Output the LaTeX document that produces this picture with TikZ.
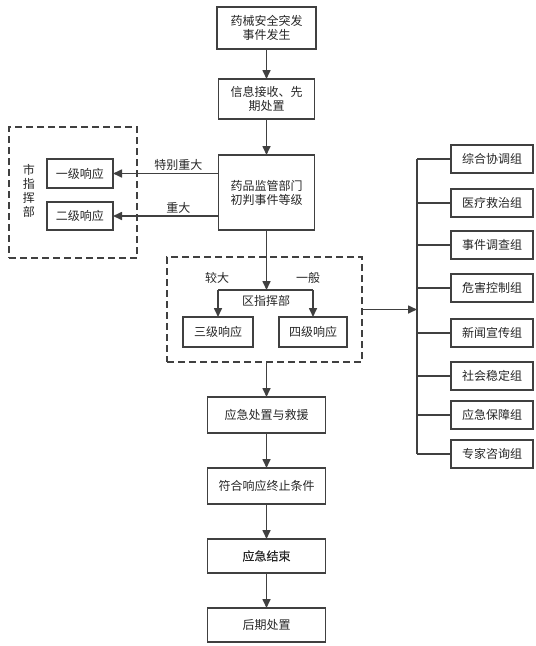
\documentclass[tikz,border=0pt]{standalone}
\usepackage{fontspec}
\newfontfamily\cjk{Noto Sans CJK SC}
\newfontfamily\cjkmid[FakeBold=0.25]{Noto Sans CJK SC}
\usetikzlibrary{arrows.meta, positioning}
\definecolor{linegray}{HTML}{404040}

\begin{document}
\begin{tikzpicture}[
    x=1pt, y=1pt,
    node distance=35pt and 35pt,
    every node/.style={font=\cjk\fontsize{12}{14}\selectfont, text=black!85},
    box/.style={draw=linegray, line width=1.6pt, align=center, inner sep=2pt, outer sep=0pt},
    mainbox/.style={box, minimum width=118pt, minimum height=36pt},
    group/.style={box, minimum width=82pt, minimum height=28pt},
    zone/.style={draw=linegray, line width=1.6pt, outer sep=0pt, dash pattern=on 7pt off 4pt},
    arr/.style={draw=linegray, line width=1.6pt, -{Triangle[width=8pt,length=9pt]}},
    link/.style={draw=linegray, line width=1.6pt},
    lbl/.style={draw=none, fill=none, inner sep=2pt},
]
\useasboundingbox (0,0) rectangle (536,-646);

% main column
\node[box, minimum width=99pt, minimum height=42pt] (evt) at (266.5,-28) {药械安全突发\\事件发生};
\node[box, minimum width=96pt, minimum height=40pt, below=30pt of evt] (info) {信息接收、先\\期处置};
\node[box, minimum width=96pt, minimum height=75pt, below=36pt of info] (judge) {药品监管部门\\初判事件等级};

% city level
\node[zone, minimum width=128pt, minimum height=131pt] (cityzone) at (73,-192.5) {};
\node[box, minimum width=66pt, minimum height=29pt] (lvl1) at (80,-173.5) {一级响应};
\node[box, minimum width=66pt, minimum height=28pt] (lvl2) at (80,-216) {二级响应};
\node[lbl, align=center, inner sep=0pt] (citycmd) at (29,-191) {市\\指\\挥\\部};

% district level
\node[zone, minimum width=195pt, minimum height=105pt] (distzone) at (264.5,-309.5) {};
\node[box, minimum width=70pt, minimum height=30pt] (lvl3) at (218,-332) {三级响应};
\node[box, minimum width=68pt, minimum height=30pt] (lvl4) at (313,-332) {四级响应};
\coordinate (split) at (266,-290);
\node[lbl] (distcmd) at (266,-301) {区指挥部};

\node[mainbox, below=35pt of distzone.south -| judge] (rescue) {应急处置与救援};
\node[mainbox, below=35pt of rescue] (cond) {符合响应终止条件};
\node[mainbox, minimum height=34pt, below=35pt of cond, font=\cjkmid\fontsize{12}{14}\selectfont] (finish) {应急结束};
\node[mainbox, minimum height=34pt, below=35pt of finish] (post) {后期处置};

% working groups
\coordinate (trunk) at (417,0);
\node[group] (g1) at (492,-159) {综合协调组};
\node[group] (g2) at (492,-203) {医疗救治组};
\node[group] (g3) at (492,-245) {事件调查组};
\node[group] (g4) at (492,-288) {危害控制组};
\node[group] (g5) at (492,-333) {新闻宣传组};
\node[group] (g6) at (492,-376) {社会稳定组};
\node[group] (g7) at (492,-415) {应急保障组};
\node[group] (g8) at (492,-454) {专家咨询组};

\draw[arr] (evt) -- (info);
\draw[arr] (info) -- (judge);
\draw[arr] (judge.west |- lvl1) -- node[lbl, above, pos=0.38] {特别重大} (lvl1);
\draw[arr] (judge.west |- lvl2) -- node[lbl, above, pos=0.38] {重大} (lvl2);
\draw[arr] (judge.south) -- (judge.south |- split);
\draw[link] (lvl3.north |- split) -- (lvl4.north |- split);
\draw[arr] (lvl3.north |- split) -- (lvl3.north);
\draw[arr] (lvl4.north |- split) -- (lvl4.north);
\node[lbl] at (217,-278) {较大};
\node[lbl] at (308,-278) {一般};
\draw[arr] (distzone.south -| rescue) -- (rescue);
\draw[arr] (rescue) -- (cond);
\draw[arr] (cond) -- (finish);
\draw[arr] (finish) -- (post);
\draw[arr] (distzone.east) -- (distzone.east -| trunk);
\draw[link] (g1.west -| trunk) -- (g8.west -| trunk);
\draw[link] (g1.west -| trunk) -- (g1.west);
\draw[link] (g2.west -| trunk) -- (g2.west);
\draw[link] (g3.west -| trunk) -- (g3.west);
\draw[link] (g4.west -| trunk) -- (g4.west);
\draw[link] (g5.west -| trunk) -- (g5.west);
\draw[link] (g6.west -| trunk) -- (g6.west);
\draw[link] (g7.west -| trunk) -- (g7.west);
\draw[link] (g8.west -| trunk) -- (g8.west);
\end{tikzpicture}
\end{document}
